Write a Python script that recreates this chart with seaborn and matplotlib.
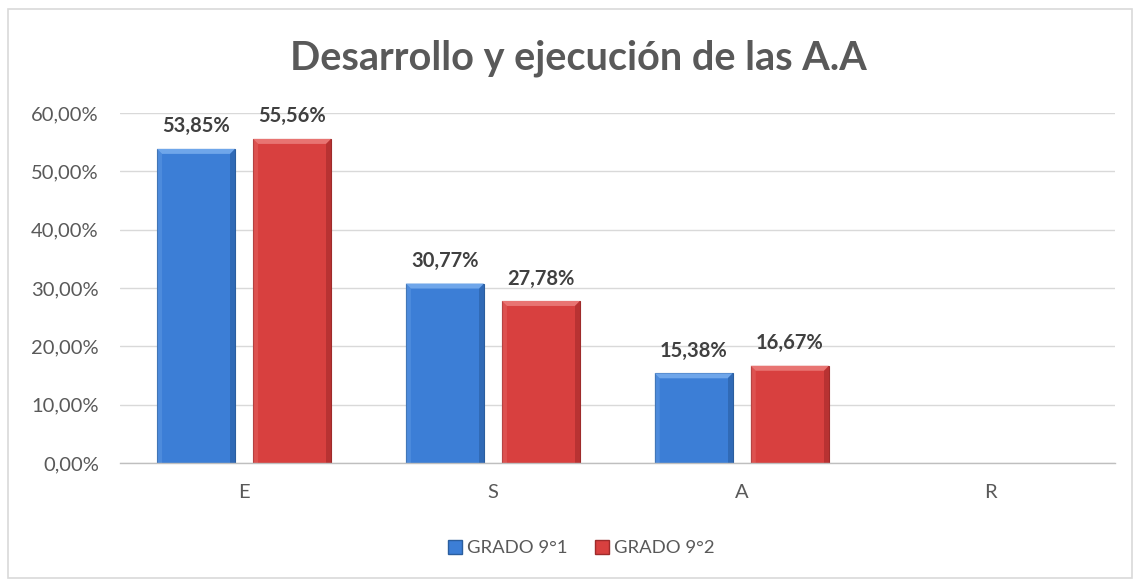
import matplotlib
matplotlib.use("Agg")
import matplotlib.pyplot as plt
import matplotlib.patches as mpatches
from matplotlib.ticker import FuncFormatter
import seaborn as sns
import pandas as pd

categories = ["E", "S", "A", "R"]
grado_91 = [53.85, 30.77, 15.38, 0.0]
grado_92 = [55.56, 27.78, 16.67, 0.0]
series_names = ["GRADO 9°1", "GRADO 9°2"]
y_ticks = [0, 10, 20, 30, 40, 50, 60]

df = pd.DataFrame({
    "cat": categories * 2,
    "val": grado_91 + grado_92,
    "serie": [series_names[0]] * 4 + [series_names[1]] * 4,
})

sns.set_theme(style="white")
plt.rcParams["font.family"] = ["Lato", "DejaVu Sans"]

blue = "#3C7ED6"
red = "#D8403F"
edges = {series_names[0]: "#2B5E9E", series_names[1]: "#9E2B2B"}
bevel_light = {series_names[0]: "#6FA6EA", series_names[1]: "#E87472"}
bevel_dark = {series_names[0]: "#2E65AE", series_names[1]: "#B02F2F"}
text_gray = "#595959"

fig = plt.figure(figsize=(11.4, 5.79), dpi=100)
ax_rect = [0.105, 0.2003, 0.873, 0.6045]
ax = fig.add_axes(ax_rect)

sns.barplot(data=df, x="cat", y="val", hue="serie", order=categories,
            hue_order=series_names, palette=[blue, red], width=0.772,
            gap=0.1875, ax=ax, legend=False, saturation=1)

ax.set_ylim(0, 60)
ax.set_xlim(-0.5, 3.5)

# bevel shading on each bar; bevel size given in pixels and converted to data units
bevel_px = 5
dx = bevel_px * 4.0 / (ax_rect[2] * 1140)
dy = bevel_px * 60.0 / (ax_rect[3] * 579)

for container, name in zip(ax.containers, series_names):
    for bar in container:
        h = bar.get_height()
        if h <= 0:
            bar.set_linewidth(0)
            continue
        bar.set_edgecolor(edges[name])
        bar.set_linewidth(0.8)
        z = bar.get_zorder() + 0.1
        x0, x1 = bar.get_x(), bar.get_x() + bar.get_width()
        top = [(x0, h), (x1, h), (x1 - dx, h - dy), (x0 + dx, h - dy)]
        right = [(x1, h), (x1, 0), (x1 - dx, 0), (x1 - dx, h - dy)]
        left = [(x0, h), (x0 + dx, h - dy), (x0 + dx, 0), (x0, 0)]
        ax.add_patch(mpatches.Polygon(top, closed=True, facecolor=bevel_light[name],
                                      edgecolor="none", zorder=z))
        ax.add_patch(mpatches.Polygon(right, closed=True, facecolor=bevel_dark[name],
                                      edgecolor="none", alpha=0.8, zorder=z))
        ax.add_patch(mpatches.Polygon(left, closed=True, facecolor=bevel_light[name],
                                      edgecolor="none", alpha=0.35, zorder=z))
    labels = [f"{v:.2f}%".replace(".", ",") if v > 0 else "" for v in container.datavalues]
    ax.bar_label(container, labels=labels, padding=9, fontsize=14.5,
                 fontweight="bold", color="#404040")

ax.set_yticks(y_ticks)
ax.yaxis.set_major_formatter(FuncFormatter(lambda v, p: f"{v:.2f}%".replace(".", ",")))
ax.grid(axis="y", color="#D9D9D9", linewidth=1)
ax.set_axisbelow(True)
for s in ["top", "right", "left"]:
    ax.spines[s].set_visible(False)
ax.spines["bottom"].set_color("#BFBFBF")
ax.spines["bottom"].set_linewidth(1)
ax.tick_params(axis="both", length=0, labelsize=14.5, colors=text_gray)
ax.tick_params(axis="x", pad=15)
ax.tick_params(axis="y", pad=15)
ax.set_xlabel("")
ax.set_ylabel("")

fig.text(0.507, 0.9, "Desarrollo y ejecución de las A.A", ha="center", va="center",
         fontsize=28.5, fontweight="bold", color=text_gray)

handles = [mpatches.Patch(facecolor=blue, edgecolor=edges[series_names[0]], label=series_names[0]),
           mpatches.Patch(facecolor=red, edgecolor=edges[series_names[1]], label=series_names[1])]
leg = fig.legend(handles=handles, loc="center", bbox_to_anchor=(0.51, 0.053), ncol=2,
                 frameon=False, fontsize=13.3, handlelength=0.75, handleheight=0.75,
                 handletextpad=0.25, columnspacing=1.5)
for t in leg.get_texts():
    t.set_color(text_gray)

fig.patches.append(mpatches.Rectangle((8 / 1140, 0.002), 1 - 16 / 1140, 1 - 10 / 579,
                                      transform=fig.transFigure, fill=False,
                                      edgecolor="#D9D9D9", linewidth=1.2))

fig.savefig("out.png", dpi=100, facecolor="white")
